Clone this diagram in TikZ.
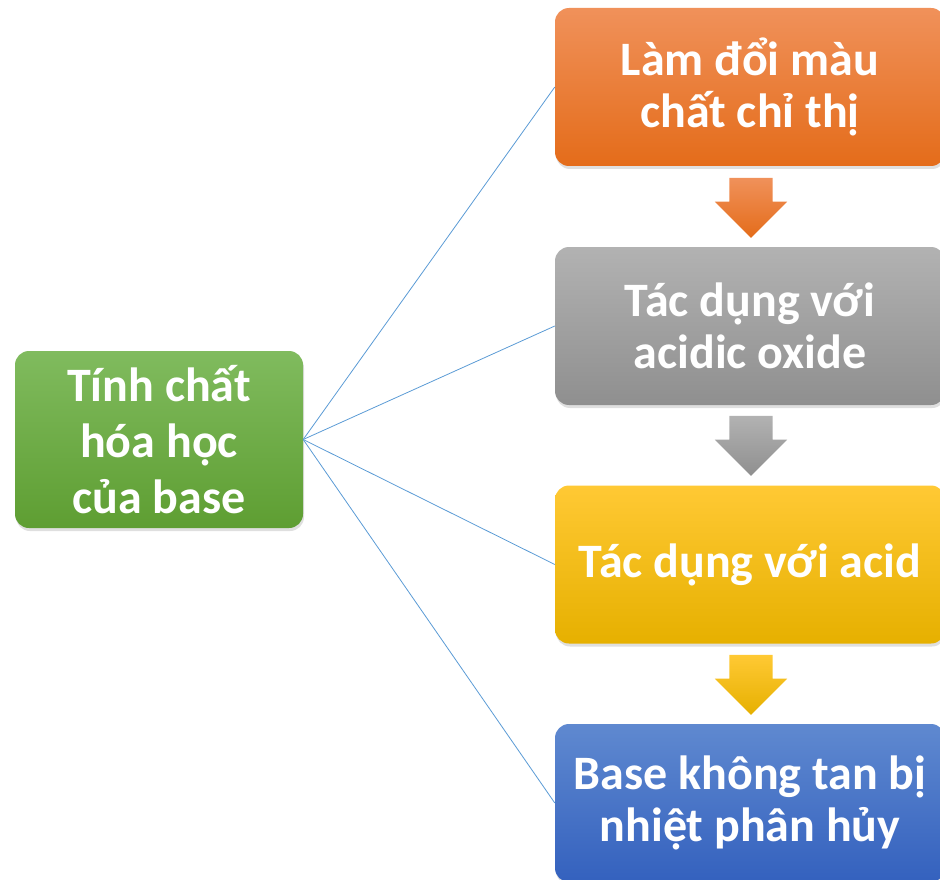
\documentclass[tikz,border=0pt]{standalone}
\usepackage{fontspec}
\setmainfont{Carlito}
\usetikzlibrary{shadows,shapes.arrows}
\definecolor{linkblue}{HTML}{5B9BD5}
\tikzset{
  box/.style={rounded corners=14pt, minimum width=390pt, minimum height=158pt,
    align=center, text=white, font=\fontsize{48}{52}\selectfont\bfseries,
    drop shadow={shadow xshift=1pt, shadow yshift=-3pt, opacity=0.25}},
  link/.style={draw=linkblue, line width=0.8pt},
  downarrow/.style={single arrow, shape border rotate=270, minimum width=72pt,
    single arrow head extend=14.5pt, single arrow tip angle=90, inner sep=0pt,
    minimum height=60pt, text width=43pt}
}
\begin{document}
\begin{tikzpicture}[x=1pt,y=-1pt]
\useasboundingbox (0,0) rectangle (940,880);
\clip (0,0) rectangle (940,880);
\node[box, minimum width=288pt, minimum height=177pt, font=\fontsize{48}{56}\selectfont\bfseries, top color={rgb,255:red,128;green,187;blue,94}, bottom color={rgb,255:red,94;green,158;blue,50}] (g) at (159,439.5) {Tính chất\\hóa học\\của base};
\node[box, top color={rgb,255:red,240;green,145;blue,90}, bottom color={rgb,255:red,228;green,108;blue,26}] (o) at (750,87) {Làm đổi màu\\chất chỉ thị};
\node[box, top color={rgb,255:red,178;green,178;blue,178}, bottom color={rgb,255:red,143;green,143;blue,143}] (y) at (750,326) {Tác dụng với\\acidic oxide};
\node[box, top color={rgb,255:red,255;green,201;blue,52}, bottom color={rgb,255:red,230;green,176;blue,0}] (a) at (750,564.5) {Tác dụng với acid};
\node[box, top color={rgb,255:red,95;green,137;blue,208}, bottom color={rgb,255:red,52;green,97;blue,190}] (b) at (750,803) {Base không tan bị\\nhiệt phân hủy};
\draw[link] (g.east) -- (o.west);
\draw[link] (g.east) -- (y.west);
\draw[link] (g.east) -- (a.west);
\draw[link] (g.east) -- (b.west);
\node[downarrow, top color={rgb,255:red,240;green,145;blue,90}, bottom color={rgb,255:red,228;green,108;blue,26}] (ar1) at (751,197) {};
\node[downarrow, top color={rgb,255:red,178;green,178;blue,178}, bottom color={rgb,255:red,143;green,143;blue,143}] (ar2) at (751,435) {};
\node[downarrow, top color={rgb,255:red,255;green,201;blue,52}, bottom color={rgb,255:red,230;green,176;blue,0}] (ar3) at (751,674) {};
\end{tikzpicture}
\end{document}
